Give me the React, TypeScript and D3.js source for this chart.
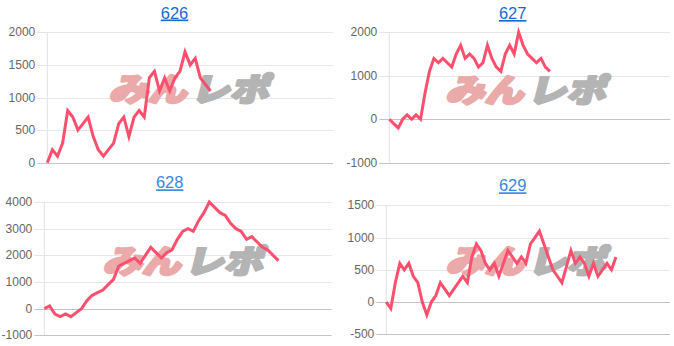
import React from "react";
import * as d3 from "d3";

const TITLES = ["626", "627", "628", "629"];

const SERIES_626 = [0, 200, 100, 300, 800, 700, 500, 600, 700, 400, 200, 100, 200, 300, 600, 700, 400, 700, 800, 700, 1300, 1400, 1100, 1300, 1100, 1300, 1400, 1700, 1500, 1600, 1300, 1200, 1100];
const SERIES_627 = [0, -100, -200, 0, 100, 0, 100, 0, 600, 1100, 1400, 1300, 1400, 1300, 1200, 1500, 1700, 1400, 1500, 1400, 1200, 1300, 1700, 1400, 1200, 1100, 1500, 1700, 1500, 2000, 1700, 1500, 1400, 1300, 1400, 1200, 1100];
const SERIES_628 = [0, 100, -200, -300, -200, -300, -150, 0, 300, 500, 600, 700, 900, 1100, 1600, 1700, 1800, 1900, 1700, 2000, 2300, 2100, 1900, 2100, 2200, 2600, 2900, 3000, 2900, 3300, 3600, 4000, 3800, 3600, 3500, 3200, 3000, 2900, 2600, 2700, 2500, 2300, 2200, 2000, 1800];
const SERIES_629 = [0, -100, 300, 600, 500, 600, 400, 300, 0, -200, 0, 100, 300, 200, 100, 200, 300, 400, 300, 700, 900, 800, 600, 500, 600, 400, 600, 800, 700, 600, 700, 600, 900, 1000, 1100, 900, 700, 500, 400, 300, 550, 800, 600, 700, 600, 400, 600, 400, 500, 600, 500, 700];

const SERIES = [SERIES_626, SERIES_627, SERIES_628, SERIES_629];
// number of category slots on each x axis
const X_SLOTS = [57, 64, 55, 64];
const Y_DOMAINS: [number, number][] = [[0, 2000], [-1000, 2000], [-1000, 4000], [-500, 1500]];
const Y_TICK_STEPS = [500, 1000, 1000, 500];

const LAYOUT = [
  { left: 47.3, right: 333, top: 32.3, bottom: 162.7, titleX: 174.5, titleY: 18.5, wmX: 192, wmY: 88 },
  { left: 389.3, right: 670.3, top: 32.3, bottom: 162.7, titleX: 512.7, titleY: 19, wmX: 528.7, wmY: 88.5 },
  { left: 44.3, right: 331.7, top: 202, bottom: 335.3, titleX: 169.7, titleY: 188.3, wmX: 186, wmY: 260 },
  { left: 386.3, right: 670, top: 205.3, bottom: 334.3, titleX: 512.7, titleY: 191.3, wmX: 529, wmY: 259.5 },
];

const FONT = "Arial, 'Liberation Sans', Helvetica, sans-serif";

function Panel({ idx }: { idx: number }) {
  const L = LAYOUT[idx];
  const data = SERIES[idx];
  const [d0, d1] = Y_DOMAINS[idx];
  const x = d3.scaleLinear().domain([0, X_SLOTS[idx] - 1]).range([L.left, L.right]);
  const y = d3.scaleLinear().domain([d0, d1]).range([L.bottom, L.top]);
  const ticks = d3.range(d0, d1 + 1, Y_TICK_STEPS[idx]);
  const line = d3
    .line<number>()
    .x((_, i) => x(i))
    .y((d) => y(d));
  const titleColor = idx < 2 ? "#1a6bd0" : "#3a86dc";
  return (
    <g>
      <text
        x={L.titleX}
        y={L.titleY}
        textAnchor="middle"
        fontFamily={FONT}
        fontSize={16.5}
        fill={titleColor}
        textDecoration="underline"
        style={{ textDecoration: "underline" }}
      >
        {TITLES[idx]}
      </text>
      {/* y axis vertical line */}
      <line x1={L.left} x2={L.left} y1={L.top} y2={L.bottom} stroke="#e2e2e2" strokeWidth={1} />
      {ticks.map((t) => {
        const yy = Math.round(y(t)) + 0.5;
        const strong = t === 0 || t === d0;
        return (
          <g key={t}>
            <line x1={L.left - 10} x2={L.right} y1={yy} y2={yy} stroke={strong ? "#c4c4c4" : "#e6e6e6"} strokeWidth={1} />
            <text
              x={L.left - 12}
              y={y(t)}
              textAnchor="end"
              dominantBaseline="central"
              fontFamily={FONT}
              fontSize={12}
              fill="#666"
            >
              {t}
            </text>
          </g>
        );
      })}
      {/* watermark */}
      <g transform={`translate(${L.wmX},${L.wmY})`} fontFamily="'Noto Sans CJK JP', sans-serif" fontWeight={900} fontSize={32} strokeLinejoin="round">
        <g transform="skewX(-14)">
          <text x={-80} y={13} textLength={78} lengthAdjust="spacingAndGlyphs" fill="#eaaaaa" stroke="#eaaaaa" strokeWidth={2.6}>
            みん
          </text>
          <text x={2} y={13} textLength={78} lengthAdjust="spacingAndGlyphs" fill="#b4b4b4" stroke="#b4b4b4" strokeWidth={2.6}>
            レポ
          </text>
        </g>
      </g>
      <path d={line(data) || ""} fill="none" stroke="#ff4f6f" strokeWidth={3} strokeLinejoin="miter" />
    </g>
  );
}

export default function App() {
  return (
    <svg
      width={674}
      height={346}
      style={{ position: "absolute", left: 0, top: 0, background: "#fff" }}
    >
      {[0, 1, 2, 3].map((i) => (
        <Panel key={i} idx={i} />
      ))}
    </svg>
  );
}
